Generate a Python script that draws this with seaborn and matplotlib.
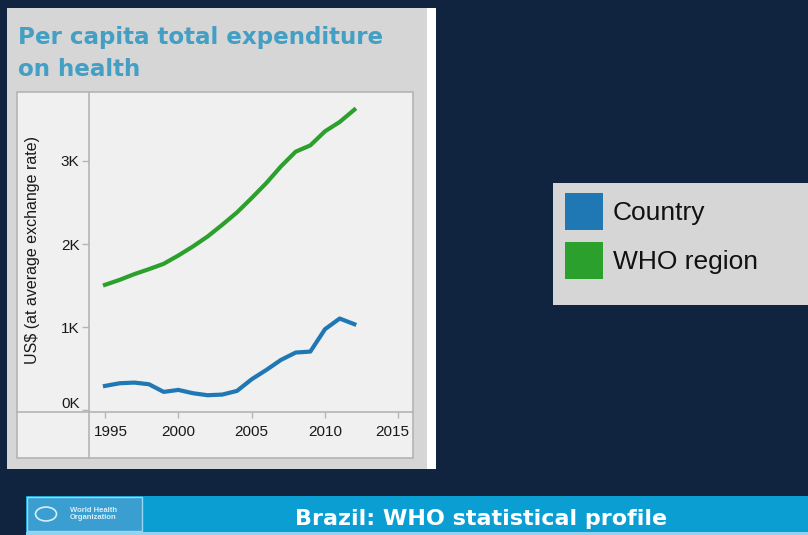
import matplotlib
matplotlib.use("Agg")
import matplotlib.pyplot as plt
import matplotlib.transforms as mtransforms
from matplotlib.patches import Rectangle, Patch, Circle
from matplotlib.lines import Line2D
import seaborn as sns
import pandas as pd

# ---- data ----
years = [1995, 1996, 1997, 1998, 1999, 2000, 2001, 2002, 2003,
         2004, 2005, 2006, 2007, 2008, 2009, 2010, 2011, 2012]
country = [295, 327, 335, 315, 223, 247, 207, 183, 191,
           235, 375, 487, 608, 696, 708, 977, 1105, 1037]
who_region = [1510, 1570, 1639, 1699, 1763, 1863, 1972, 2092, 2233,
              2381, 2554, 2734, 2935, 3111, 3187, 3356, 3468, 3616]
series_names = ["Country", "WHO region"]
series_colors = ["#1f77b4", "#2ca02c"]
y_ticks = [0, 1000, 2000, 3000]
y_tick_labels = ["0K", "1K", "2K", "3K"]
x_ticks = [1995, 2000, 2005, 2010, 2015]
title_lines = ["Per capita total expenditure", "on health"]
y_label = "US$ (at average exchange rate)"
banner_text = "Brazil: WHO statistical profile"

df = pd.DataFrame({
    "year": years * 2,
    "value": country + who_region,
    "series": [series_names[0]] * len(years) + [series_names[1]] * len(years),
})

plt.rcParams["font.family"] = ["Liberation Sans", "DejaVu Sans"]

W, H = 808, 535
fig = plt.figure(figsize=(W / 100, H / 100), dpi=100)
fig.patch.set_facecolor("#10243f")


def fx(x):
    return x / W


def fy(y):
    return 1 - y / H


def frect(x0, y0, x1, y1, **kw):
    r = Rectangle((fx(x0), fy(y1)), fx(x1) - fx(x0), fy(y0) - fy(y1),
                  transform=fig.transFigure, **kw)
    fig.add_artist(r)
    return r


# panel background
frect(7, 8, 427, 469, facecolor="#d6d6d6", edgecolor="none", zorder=0)
frect(427, 8, 436, 469, facecolor="#ffffff", edgecolor="none", zorder=0)
# inner box
frect(17, 92, 413, 458, facecolor="#f0f0f0", edgecolor="#b4b4b4", lw=1.2, zorder=0.5)
fig.add_artist(Line2D([fx(89.3), fx(89.3)], [fy(92), fy(458)], transform=fig.transFigure,
                      color="#b4b4b4", lw=1.2, zorder=0.6))
fig.add_artist(Line2D([fx(17), fx(413)], [fy(411.7), fy(411.7)], transform=fig.transFigure,
                      color="#b4b4b4", lw=1.2, zorder=0.6))

# title
title_color = "#449fc4"
for txt, base in zip(title_lines, [44.3, 76]):
    fig.text(fx(18.3), fy(base), txt, family="DejaVu Sans", weight="bold",
             fontsize=16.6, color=title_color, va="baseline", ha="left")

# main axes
L, R, T, B = 89.3, 413.3, 92.3, 411.7
ax = fig.add_axes([fx(L), fy(B), fx(R) - fx(L), fy(T) - fy(B)])
ax.set_zorder(2)
ax.set_facecolor("none")
sns.lineplot(data=df, x="year", y="value", hue="series", hue_order=series_names,
             palette=series_colors, lw=3, legend=False, ax=ax, zorder=3)
ax.set_xlim(1993.93, 2016.02)
ax.set_ylim(-15, 3825)
for s in ax.spines.values():
    s.set_visible(False)
ax.set_yticks(y_ticks)
ax.set_yticklabels(y_tick_labels)
ax.set_xticks(x_ticks)
ax.set_xticklabels([str(t) for t in x_ticks])
ax.tick_params(axis="y", length=5, width=1, color="#b4b4b4", pad=2,
               labelsize=11, labelcolor="#1a1a1a")
ax.tick_params(axis="x", length=4.5, width=1, color="#b4b4b4", pad=5,
               labelsize=11, labelcolor="#1a1a1a")
ax.set_xlabel("")
ax.set_ylabel(y_label, fontsize=11.5, color="#1a1a1a")
ax.yaxis.label.set_rotation_mode("default")
ax.yaxis.label.set_va("center")
ax.yaxis.set_label_coords((33 - L) / (R - L), (B - 250) / (B - T))

# adjust edge labels (kept inside the box, as in the reference)
ylabs = ax.get_yticklabels()
ylabs[0].set_transform(ylabs[0].get_transform() +
                       mtransforms.ScaledTranslation(0, 8 / 100, fig.dpi_scale_trans))
xlabs = ax.get_xticklabels()
xlabs[0].set_transform(xlabs[0].get_transform() +
                       mtransforms.ScaledTranslation(6 / 100, 0, fig.dpi_scale_trans))
xlabs[-1].set_transform(xlabs[-1].get_transform() +
                        mtransforms.ScaledTranslation(-6 / 100, 0, fig.dpi_scale_trans))

# legend panel
frect(553, 183, 808, 305, facecolor="#d6d6d6", edgecolor="none", zorder=0)
handles = [Patch(facecolor=c, edgecolor="none") for c in series_colors]
fig.legend(handles=handles, labels=series_names, loc="upper left",
           bbox_to_anchor=(fx(565), fy(193)), frameon=False, fontsize=19,
           handlelength=1.44, handleheight=1.777, handletextpad=0.38,
           labelspacing=0.46, borderpad=0, borderaxespad=0, labelcolor="#111111")

# bottom banner
frect(26, 496, 808, 535, facecolor="#0a9ed3", edgecolor="none", zorder=0)
frect(26, 531.5, 808, 535, facecolor="#8fd3ee", edgecolor="none", zorder=0.5)
frect(27, 497, 142, 531, facecolor="#3a9fd0", edgecolor="#9ad6f0", lw=1, zorder=0.6)
fig.add_artist(Circle((fx(46), fy(514)), 10.5 / W, transform=fig.transFigure,
                      facecolor="none", edgecolor="#d8eef8", lw=1.2, zorder=0.7))
fig.text(fx(70), fy(514), "World Health\nOrganization", fontsize=5.5, color="#d8eef8",
         weight="bold", va="center", ha="left", linespacing=1.1)
fig.text(fx(295), fy(525), banner_text, family="DejaVu Sans", weight="bold",
         fontsize=16, color="#ffffff", va="baseline", ha="left")

fig.savefig("out.png", dpi=100, facecolor=fig.get_facecolor())
